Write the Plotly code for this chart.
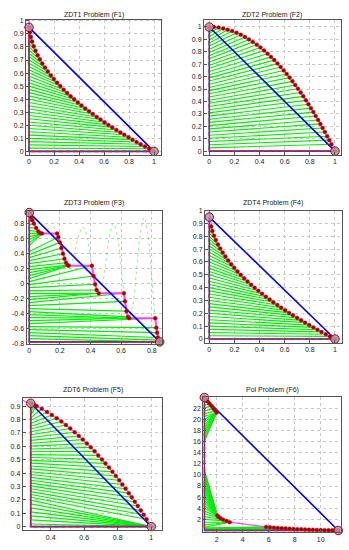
import plotly.graph_objects as go

W, H = 349, 550

# ---------------- F1 : ZDT1 ----------------
F1_X = [0.0025, 0.0076, 0.0151, 0.0253, 0.038, 0.0524, 0.0692, 0.087, 0.1069, 0.1282, 0.1505, 0.1747,
        0.1989, 0.2247, 0.25, 0.2777, 0.3047, 0.3329, 0.3612, 0.3906, 0.4199, 0.4502, 0.4802, 0.5098,
        0.5417, 0.5715, 0.6037, 0.6352, 0.6659, 0.6989, 0.731, 0.7621, 0.7957, 0.8281, 0.8612, 0.893,
        0.9274, 0.9604, 1.0]
F1_Y = [0.95, 0.913, 0.877, 0.841, 0.805, 0.771, 0.737, 0.705, 0.673, 0.642, 0.612, 0.582, 0.554, 0.526,
        0.5, 0.473, 0.448, 0.423, 0.399, 0.375, 0.352, 0.329, 0.307, 0.286, 0.264, 0.244, 0.223, 0.203,
        0.184, 0.164, 0.145, 0.127, 0.108, 0.09, 0.072, 0.055, 0.037, 0.02, 0.0]
F1_H = [0.95, 0.925, 0.9, 0.875, 0.85, 0.825, 0.8, 0.775, 0.75, 0.725, 0.7, 0.675, 0.65, 0.625, 0.6,
        0.575, 0.55, 0.525, 0.5, 0.475, 0.45, 0.425, 0.4, 0.375, 0.35, 0.325, 0.3, 0.275, 0.25, 0.225,
        0.2, 0.175, 0.15, 0.125, 0.1, 0.075, 0.05, 0.025, 0.0]
F1_ANCHOR_X = [0.0, 1.0]
F1_ANCHOR_Y = [0.95, 0.0]
F1_PINK_HEAD_X = [0.0]
F1_PINK_HEAD_Y = [1.0]

# ---------------- F2 : ZDT2 ----------------
F2_X = [0.0, 0.037, 0.074, 0.111, 0.147, 0.182, 0.217, 0.251, 0.284, 0.316, 0.347, 0.378, 0.407, 0.436,
        0.464, 0.491, 0.517, 0.543, 0.568, 0.592, 0.616, 0.639, 0.662, 0.684, 0.706, 0.727, 0.748, 0.769,
        0.789, 0.809, 0.828, 0.847, 0.866, 0.884, 0.902, 0.92, 0.938, 0.955, 0.972, 1.0]
F2_Y = [1.0, 0.999, 0.995, 0.988, 0.978, 0.967, 0.953, 0.937, 0.919, 0.9, 0.88, 0.857, 0.834, 0.81, 0.785,
        0.759, 0.733, 0.705, 0.677, 0.65, 0.621, 0.592, 0.562, 0.532, 0.502, 0.472, 0.441, 0.409, 0.378,
        0.346, 0.314, 0.283, 0.25, 0.219, 0.186, 0.154, 0.12, 0.088, 0.055, 0.0]
F2_H = [1.0, 0.974, 0.949, 0.923, 0.897, 0.872, 0.846, 0.821, 0.795, 0.769, 0.744, 0.718, 0.692, 0.667,
        0.641, 0.615, 0.59, 0.564, 0.538, 0.513, 0.487, 0.462, 0.436, 0.41, 0.385, 0.359, 0.333, 0.308,
        0.282, 0.256, 0.231, 0.205, 0.179, 0.154, 0.128, 0.103, 0.077, 0.051, 0.026, 0.0]
F2_ANCHOR_X = [0.0, 1.0]
F2_ANCHOR_Y = [1.0, 0.0]

# ---------------- F3 : ZDT3 ----------------
F3_X = [0.0025, 0.006, 0.012, 0.02, 0.03, 0.045, 0.06, 0.07, 0.083,
        0.182, 0.19, 0.2, 0.21, 0.22, 0.23, 0.24, 0.25, 0.258,
        0.409, 0.42, 0.43, 0.44, 0.454,
        0.618, 0.625, 0.635, 0.645, 0.653,
        0.823, 0.83, 0.835, 0.84, 0.846, 0.852]
F3_Y = [0.95, 0.92, 0.885, 0.847, 0.803, 0.744, 0.698, 0.679, 0.67,
        0.67, 0.623, 0.553, 0.477, 0.402, 0.334, 0.282, 0.25, 0.242,
        0.242, 0.105, -0.004, -0.082, -0.124,
        -0.124, -0.233, -0.363, -0.44, -0.458,
        -0.458, -0.583, -0.65, -0.715, -0.75, -0.773]
F3_H = [0.95, 0.91, 0.87, 0.83, 0.79, 0.75, 0.71, 0.67, 0.63, 0.59, 0.55, 0.51,
        0.43, 0.39, 0.35, 0.31, 0.27, 0.23, 0.19, 0.15, 0.11, 0.07,
        0.03, -0.01, -0.05, -0.09, -0.13, -0.17, -0.21,
        -0.25, -0.29, -0.33, -0.37, -0.41, -0.45, -0.49,
        -0.53, -0.57, -0.61, -0.65, -0.69, -0.73, -0.773]
F3_TX = [0.0025, 0.006, 0.012, 0.02, 0.03, 0.045, 0.06, 0.07, 0.083, 0.083, 0.083, 0.083,
         0.19, 0.2, 0.21, 0.22, 0.23, 0.24, 0.25, 0.258, 0.258, 0.258,
         0.409, 0.42, 0.43, 0.44, 0.454, 0.454, 0.454,
         0.618, 0.625, 0.635, 0.645, 0.653, 0.653, 0.653,
         0.823, 0.83, 0.835, 0.84, 0.846, 0.852, 0.852]
F3_TY = [0.95, 0.92, 0.885, 0.847, 0.803, 0.744, 0.698, 0.679, 0.67, 0.67, 0.67, 0.67,
         0.623, 0.553, 0.477, 0.402, 0.334, 0.282, 0.25, 0.242, 0.242, 0.242,
         0.242, 0.105, -0.004, -0.082, -0.124, -0.124, -0.124,
         -0.124, -0.233, -0.363, -0.44, -0.458, -0.458, -0.458,
         -0.458, -0.583, -0.65, -0.715, -0.75, -0.773, -0.773]
F3_CURVE_X = [0.0, 0.025, 0.05, 0.075, 0.1, 0.125, 0.15, 0.175, 0.2, 0.225, 0.25, 0.275, 0.3, 0.325,
              0.35, 0.375, 0.4, 0.425, 0.45, 0.475, 0.5, 0.525, 0.55, 0.575, 0.6, 0.625, 0.65, 0.675,
              0.7, 0.725, 0.75, 0.775, 0.8, 0.825, 0.85]
F3_CURVE_Y = [1.0, 0.824, 0.726, 0.673, 0.684, 0.735, 0.763, 0.705, 0.553, 0.367, 0.25, 0.281, 0.452,
              0.66, 0.758, 0.653, 0.368, 0.048, -0.121, -0.025, 0.293, 0.647, 0.808, 0.648, 0.225,
              -0.233, -0.456, -0.299, 0.163, 0.661, 0.884, 0.668, 0.106, -0.492, -0.772]
F3_ANCHOR_X = [0.0, 0.852]
F3_ANCHOR_Y = [0.95, -0.773]
F3_PINK_HEAD_X = [0.0]
F3_PINK_HEAD_Y = [1.0]

# ---------------- F4 : ZDT4 ----------------
F4_X = [0.0151, 0.0253, 0.038, 0.0524, 0.0692, 0.087, 0.1069, 0.1282, 0.1505, 0.1747, 0.1989, 0.2247,
        0.25, 0.2777, 0.3047, 0.3329, 0.3612, 0.3906, 0.4199, 0.4502, 0.4802, 0.5098, 0.5417, 0.5715,
        0.6037, 0.6352, 0.6659, 0.6989, 0.731, 0.7621, 0.7957, 0.8281, 0.8612, 0.893, 0.9274, 0.9604, 1.0]
F4_Y = [0.877, 0.841, 0.805, 0.771, 0.737, 0.705, 0.673, 0.642, 0.612, 0.582, 0.554, 0.526, 0.5, 0.473,
        0.448, 0.423, 0.399, 0.375, 0.352, 0.329, 0.307, 0.286, 0.264, 0.244, 0.223, 0.203, 0.184, 0.164,
        0.145, 0.127, 0.108, 0.09, 0.072, 0.055, 0.037, 0.02, 0.0]
F4_H = [0.9, 0.875, 0.85, 0.825, 0.8, 0.775, 0.75, 0.725, 0.7, 0.675, 0.65, 0.625, 0.6, 0.575, 0.55,
        0.525, 0.5, 0.475, 0.45, 0.425, 0.4, 0.375, 0.35, 0.325, 0.3, 0.275, 0.25, 0.225, 0.2, 0.175,
        0.15, 0.125, 0.1, 0.075, 0.05, 0.025, 0.0]
F4_ANCHOR_X = [0.0, 1.0]
F4_ANCHOR_Y = [0.95, 0.0]
F4_PINK_HEAD_X = [0.0]
F4_PINK_HEAD_Y = [1.0]

# ---------------- F5 : ZDT6 ----------------
F5_X = [0.281, 0.288, 0.296, 0.305, 0.316, 0.347, 0.378, 0.407, 0.436, 0.464, 0.491, 0.517, 0.543,
        0.568, 0.592, 0.616, 0.639, 0.662, 0.684, 0.706, 0.727, 0.748, 0.769, 0.789, 0.809, 0.828,
        0.847, 0.866, 0.884, 0.902, 0.92, 0.938, 0.955, 0.972, 1.0]
F5_Y = [0.921, 0.917, 0.912, 0.907, 0.9, 0.88, 0.857, 0.834, 0.81, 0.785, 0.759, 0.733, 0.705, 0.677,
        0.65, 0.621, 0.592, 0.562, 0.532, 0.502, 0.472, 0.441, 0.409, 0.378, 0.346, 0.314, 0.283, 0.25,
        0.219, 0.186, 0.154, 0.12, 0.088, 0.055, 0.0]
F5_H = [0.92, 0.899, 0.878, 0.856, 0.835, 0.814, 0.793, 0.771, 0.75, 0.729, 0.708, 0.686, 0.665, 0.644,
        0.623, 0.601, 0.58, 0.559, 0.538, 0.516, 0.495, 0.474, 0.453, 0.431, 0.41, 0.389, 0.368, 0.346,
        0.325, 0.304, 0.283, 0.261, 0.24, 0.219, 0.198,
        0.17, 0.14, 0.11, 0.08, 0.05, 0.02, 0.0]
F5_TX = F5_X + [1.0, 1.0, 1.0, 1.0, 1.0, 1.0, 1.0]
F5_TY = F5_Y + [0.0, 0.0, 0.0, 0.0, 0.0, 0.0, 0.0]
F5_ANCHOR_X = [0.281, 1.0]
F5_ANCHOR_Y = [0.921, 0.0]
F5_PINK_HEAD_X = [0.2]
F5_PINK_HEAD_Y = [0.96]

# ---------------- F6 : Pol ----------------
F6_TOP_X = [1.05, 1.15, 1.3, 1.45, 1.6, 1.75, 1.9, 2.0]
F6_TOP_Y = [23.9, 23.6, 23.2, 22.8, 22.4, 21.9, 21.5, 21.2]
F6_MID_X = [2.05, 2.15, 2.3, 2.5, 2.75, 3.0]
F6_MID_Y = [2.7, 2.45, 2.2, 1.95, 1.7, 1.5]
F6_LOW_X = [5.8, 6.1, 6.4, 6.7, 7.0, 7.3, 7.6, 7.9, 8.2, 8.5, 8.8, 9.1, 9.4, 9.7, 10.0, 10.3, 10.6,
            10.9, 11.1, 11.35]
F6_LOW_Y = [0.65, 0.58, 0.52, 0.47, 0.42, 0.37, 0.33, 0.29, 0.25, 0.22, 0.19, 0.16, 0.13, 0.11, 0.09,
            0.07, 0.05, 0.03, 0.02, 0.0]
F6_H = [23.5, 23.0, 22.5, 22.0, 21.5, 21.0, 20.5, 20.0, 19.5, 19.0, 18.5, 18.0, 17.5, 17.0, 16.5, 16.0,
        11.0, 10.5, 10.0, 9.5, 9.0, 8.5, 8.0, 7.5, 7.0, 6.5, 6.0, 5.5, 5.0, 4.5, 4.0,
        3.5, 3.0, 2.5, 2.0, 1.5, 1.0, 0.6,
        0.45, 0.4, 0.35, 0.3, 0.25, 0.2, 0.15, 0.1, 0.05, 0.02]
F6_TX = [1.15, 1.3, 1.45, 1.6, 1.75, 1.9, 2.0, 2.0, 2.0, 2.0, 2.0, 2.0, 2.0, 2.0, 2.0, 2.0,
         2.05, 2.05, 2.05, 2.05, 2.05, 2.05, 2.05, 2.05, 2.05, 2.05, 2.05, 2.05, 2.05, 2.05, 2.05,
         2.15, 2.3, 2.5, 2.75, 3.0, 3.0, 3.0,
         5.8, 6.4, 7.0, 7.6, 8.2, 8.8, 9.4, 10.0, 10.6, 11.1]
F6_TY = [23.6, 23.2, 22.8, 22.4, 21.9, 21.5, 21.2, 21.2, 21.2, 21.2, 21.2, 21.2, 21.2, 21.2, 21.2, 21.2,
         2.7, 2.7, 2.7, 2.7, 2.7, 2.7, 2.7, 2.7, 2.7, 2.7, 2.7, 2.7, 2.7, 2.7, 2.7,
         2.45, 2.2, 1.95, 1.7, 1.5, 1.5, 1.5,
         0.65, 0.52, 0.42, 0.33, 0.25, 0.19, 0.13, 0.09, 0.05, 0.02]
F6_ANCHOR_X = [1.05, 11.35]
F6_ANCHOR_Y = [23.9, 0.0]

TITLES = ["ZDT1 Problem (F1)", "ZDT2 Problem (F2)", "ZDT3 Problem (F3)",
          "ZDT4 Problem (F4)", "ZDT6 Problem (F5)", "Pol Problem (F6)"]

TICKS_01 = [0, 0.1, 0.2, 0.3, 0.4, 0.5, 0.6, 0.7, 0.8, 0.9, 1.0]
TICKS_01_TXT = ["0", "0.1", "0.2", "0.3", "0.4", "0.5", "0.6", "0.7", "0.8", "0.9", "1"]
TICKS_X5 = [0, 0.2, 0.4, 0.6, 0.8, 1.0]
TICKS_X5_TXT = ["0", "0.2", "0.4", "0.6", "0.8", "1"]
F3_XT = [0, 0.2, 0.4, 0.6, 0.8]
F3_XT_TXT = ["0", "0.2", "0.4", "0.6", "0.8"]
F3_YT = [-0.8, -0.6, -0.4, -0.2, 0, 0.2, 0.4, 0.6, 0.8]
F3_YT_TXT = ["-0.8", "-0.6", "-0.4", "-0.2", "0", "0.2", "0.4", "0.6", "0.8"]
F5_XT = [0.4, 0.6, 0.8, 1.0]
F5_XT_TXT = ["0.4", "0.6", "0.8", "1"]
F5_YT = [0, 0.1, 0.2, 0.3, 0.4, 0.5, 0.6, 0.7, 0.8, 0.9]
F5_YT_TXT = ["0", "0.1", "0.2", "0.3", "0.4", "0.5", "0.6", "0.7", "0.8", "0.9"]
F6_XT = [2, 4, 6, 8, 10]
F6_XT_TXT = ["2", "4", "6", "8", "10"]
F6_YT = [2, 4, 6, 8, 10, 12, 14, 16, 18, 20, 22]
F6_YT_TXT = ["2", "4", "6", "8", "10", "12", "14", "16", "18", "20", "22"]


def segs(x0, hs, tx, ty):
    xs, ys = [], []
    for h, x, y in zip(hs, tx, ty):
        xs += [x0, x, None]
        ys += [h, y, None]
    return xs, ys


panels = [
    dict(box=(26, 161, 16, 153), xr=[-0.024, 1.056], yr=[-0.028, 1.008],
         xt=(TICKS_X5, TICKS_X5_TXT), yt=(TICKS_01, TICKS_01_TXT),
         ax=F1_ANCHOR_X, ay=F1_ANCHOR_Y, gh=F1_H, gx=F1_X, gy=F1_Y, rx=F1_X, ry=F1_Y,
         pinks=[(F1_PINK_HEAD_X + F1_X, F1_PINK_HEAD_Y + F1_Y)], ty=10.7),
    dict(box=(204, 340.5, 16.5, 153), xr=[-0.042, 1.044], yr=[-0.032, 1.054],
         xt=(TICKS_X5, TICKS_X5_TXT), yt=(TICKS_01, TICKS_01_TXT),
         ax=F2_ANCHOR_X, ay=F2_ANCHOR_Y, gh=F2_H, gx=F2_X, gy=F2_Y, rx=F2_X, ry=F2_Y,
         pinks=[(F2_X, F2_Y)], ty=10.7),
    dict(box=(26.5, 162, 209.3, 344.3), xr=[-0.018, 0.867], yr=[-0.8, 0.976],
         xt=(F3_XT, F3_XT_TXT), yt=(F3_YT, F3_YT_TXT),
         ax=F3_ANCHOR_X, ay=F3_ANCHOR_Y, gh=F3_H, gx=F3_TX, gy=F3_TY, rx=F3_X, ry=F3_Y,
         pinks=[(F3_PINK_HEAD_X + F3_X, F3_PINK_HEAD_Y + F3_Y)], ty=201.5,
         curve=(F3_CURVE_X, F3_CURVE_Y), pinkw=2.0),
    dict(box=(205, 341.5, 209.3, 343.3), xr=[-0.034, 1.052], yr=[-0.031, 1.0],
         xt=(TICKS_X5, TICKS_X5_TXT), yt=(TICKS_01, TICKS_01_TXT),
         ax=F4_ANCHOR_X, ay=F4_ANCHOR_Y, gh=F4_H, gx=F4_X, gy=F4_Y, rx=F4_X, ry=F4_Y,
         pinks=[(F4_PINK_HEAD_X + F4_X, F4_PINK_HEAD_Y + F4_Y)], ty=201.5),
    dict(box=(22.7, 162.3, 399.3, 533), xr=[0.233, 1.066], yr=[-0.027, 0.959],
         xt=(F5_XT, F5_XT_TXT), yt=(F5_YT, F5_YT_TXT),
         ax=F5_ANCHOR_X, ay=F5_ANCHOR_Y, gh=F5_H, gx=F5_TX, gy=F5_TY, rx=F5_X, ry=F5_Y,
         pinks=[(F5_PINK_HEAD_X + F5_X, F5_PINK_HEAD_Y + F5_Y)], ty=391),
    dict(box=(203.3, 341, 397.7, 535), xr=[0.97, 11.56], yr=[-0.3, 24.06],
         xt=(F6_XT, F6_XT_TXT), yt=(F6_YT, F6_YT_TXT),
         ax=F6_ANCHOR_X, ay=F6_ANCHOR_Y, gh=F6_H, gx=F6_TX, gy=F6_TY,
         rx=F6_TOP_X + F6_MID_X + F6_LOW_X, ry=F6_TOP_Y + F6_MID_Y + F6_LOW_Y,
         pinks=[(F6_TOP_X, F6_TOP_Y), (F6_MID_X + F6_LOW_X, F6_MID_Y + F6_LOW_Y)], ty=391),
]

FONT = "Liberation Sans, Arial, Helvetica, sans-serif"
fig = go.Figure()
layout = dict(width=W, height=H, margin=dict(l=0, r=0, t=0, b=0), autosize=False,
              paper_bgcolor="white", plot_bgcolor="white", showlegend=False, hovermode=False,
              font=dict(family=FONT, size=7, color="#222"))
annotations = []

for i, p in enumerate(panels, start=1):
    xa = "x" if i == 1 else "x%d" % i
    ya = "y" if i == 1 else "y%d" % i
    xk = "xaxis" if i == 1 else "xaxis%d" % i
    yk = "yaxis" if i == 1 else "yaxis%d" % i
    x0p, x1p, y0p, y1p = p["box"]
    xdom = [x0p / W, x1p / W]
    ydom = [1 - y1p / H, 1 - y0p / H]
    common = dict(showline=True, mirror=True, linecolor="#555", linewidth=1,
                  showgrid=True, gridcolor="#c8c8c8", griddash="dot", gridwidth=1,
                  zeroline=False, ticks="inside", ticklen=3, tickcolor="#555",
                  tickfont=dict(size=7, color="#222", family=FONT))
    layout[xk] = dict(common, domain=xdom, range=p["xr"], anchor=ya,
                      tickvals=p["xt"][0], ticktext=p["xt"][1])
    layout[yk] = dict(common, domain=ydom, range=p["yr"], anchor=xa,
                      tickvals=p["yt"][0], ticktext=p["yt"][1])

    left_x = p["ax"][0]
    gxs, gys = segs(left_x, p["gh"], p["gx"], p["gy"])
    fig.add_trace(go.Scatter(x=gxs, y=gys, mode="lines", xaxis=xa, yaxis=ya,
                             line=dict(color="#00ee00", width=1.1), hoverinfo="skip"))
    if "curve" in p:
        fig.add_trace(go.Scatter(x=p["curve"][0], y=p["curve"][1], mode="lines", xaxis=xa, yaxis=ya,
                                 line=dict(color="rgba(80,210,80,0.55)", width=1, dash="dot",
                                           shape="spline"), hoverinfo="skip"))
    for (px, py) in p["pinks"]:
        fig.add_trace(go.Scatter(x=px, y=py, mode="lines", xaxis=xa, yaxis=ya,
                                 line=dict(color="#ff44ff", width=p.get("pinkw", 1.2)), hoverinfo="skip"))
    fig.add_trace(go.Scatter(x=p["ax"], y=p["ay"], mode="lines", xaxis=xa, yaxis=ya,
                             line=dict(color="#0000f0", width=1.6), hoverinfo="skip"))
    cx = [p["ax"][0], p["ax"][0], p["ax"][1]]
    cy = [p["ay"][0], p["ay"][1], p["ay"][1]]
    fig.add_trace(go.Scatter(x=cx, y=cy, mode="lines", xaxis=xa, yaxis=ya,
                             line=dict(color="#3030ff", width=1.6), hoverinfo="skip"))
    fig.add_trace(go.Scatter(x=cx, y=cy, mode="lines", xaxis=xa, yaxis=ya,
                             line=dict(color="#ff1010", width=1.6, dash="4px,3px"), hoverinfo="skip"))
    fig.add_trace(go.Scatter(x=p["rx"], y=p["ry"], mode="markers", xaxis=xa, yaxis=ya, cliponaxis=False,
                             marker=dict(size=4, color="#9a0000", line=dict(color="#ff2020", width=0.4)),
                             hoverinfo="skip"))
    fig.add_trace(go.Scatter(x=p["ax"], y=p["ay"], mode="markers", xaxis=xa, yaxis=ya, cliponaxis=False,
                             marker=dict(size=8.5, color="rgba(175,150,168,0.85)",
                                         line=dict(color="#b00000", width=1)),
                             hoverinfo="skip"))
    annotations.append(dict(text=TITLES[i - 1], xref="paper", yref="paper",
                            x=(xdom[0] + xdom[1]) / 2, y=1 - p["ty"] / H,
                            xanchor="center", yanchor="middle", showarrow=False,
                            font=dict(size=7, color="#222", family=FONT)))

layout["annotations"] = annotations
fig.update_layout(**layout)
fig.write_html("out.html", config={"displayModeBar": False, "staticPlot": True},
               post_script="document.body.style.margin='0';document.body.style.padding='0';")
